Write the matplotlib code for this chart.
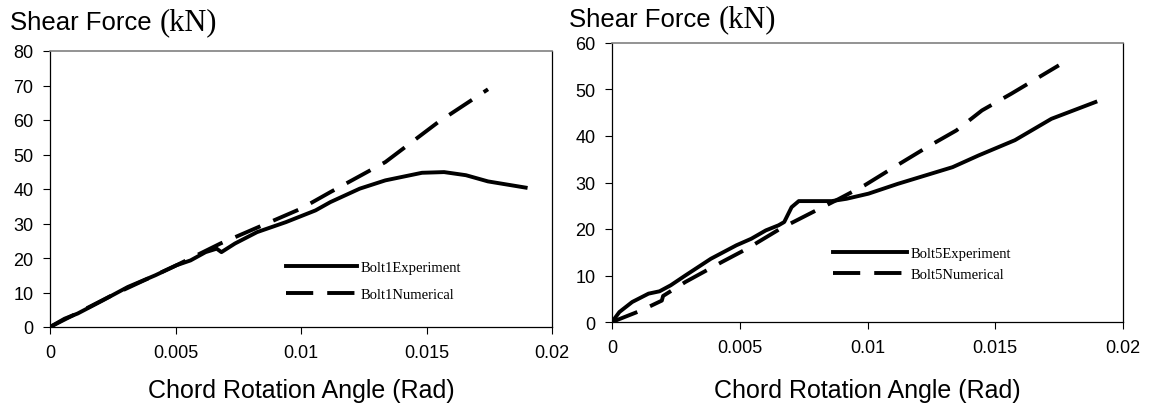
import matplotlib
matplotlib.use('Agg')
import matplotlib.pyplot as plt

plt.rcParams['font.family'] = ['Liberation Sans', 'DejaVu Sans']

# Bolt 1 (left)
b1_exp_x = [0, 0.00058, 0.0011, 0.0021, 0.0031, 0.0042, 0.00504, 0.0056, 0.0062, 0.00664,
            0.00683, 0.00737, 0.00825, 0.0094, 0.01058, 0.01117, 0.01234, 0.01336, 0.01482,
            0.0157, 0.01657, 0.01745, 0.01895]
b1_exp_y = [0, 2.4, 3.9, 7.7, 11.6, 15.0, 17.9, 19.3, 21.7, 22.7,
            21.7, 24.2, 27.5, 30.4, 33.8, 36.2, 40.1, 42.5, 44.7,
            44.9, 44.0, 42.2, 40.4]
b1_num_x = [0, 0.001, 0.0025, 0.00504, 0.00679, 0.00876, 0.01, 0.01117, 0.01336, 0.01547, 0.01745]
b1_num_y = [0, 3.7, 9.3, 17.9, 24.2, 30.4, 34.3, 39.1, 47.8, 59.4, 68.9]

# Bolt 5 (right)
b5_exp_x = [0, 0.00029, 0.00079, 0.00143, 0.00186, 0.0023, 0.00287, 0.00387, 0.00487, 0.00545,
            0.00602, 0.00652, 0.00674, 0.00703, 0.00731, 0.0086, 0.00918, 0.01004, 0.01118,
            0.01333, 0.01434, 0.01577, 0.0172, 0.01892]
b5_exp_y = [0, 2.15, 4.3, 6.1, 6.6, 7.9, 10.0, 13.6, 16.5, 17.9,
            19.7, 20.8, 21.5, 24.7, 26.0, 26.0, 26.5, 27.6, 29.7,
            33.3, 35.8, 39.1, 43.7, 47.3]
b5_num_x = [0, 0.00115, 0.00195, 0.002, 0.00287, 0.0043, 0.0053, 0.0066, 0.00774, 0.00889,
            0.00989, 0.01104, 0.01233, 0.01348, 0.01448, 0.01563, 0.01749]
b5_num_y = [0, 2.5, 4.6, 5.6, 8.6, 12.9, 15.8, 20.1, 23.3, 26.5,
            29.4, 33.3, 37.6, 41.2, 45.5, 49.1, 55.2]

xticks = [0, 0.005, 0.01, 0.015, 0.02]
xticklabels = ['0', '0.005', '0.01', '0.015', '0.02']

fig = plt.figure(figsize=(11.5, 4.1), dpi=100)
ax1 = fig.add_axes([50/1150, 1-328/410, 502/1150, 276/410])
ax2 = fig.add_axes([612/1150, 1-323/410, 511/1150, 279/410])


def style(ax, ymax, ystep, lab_y):
    ax.set_xlim(0, 0.02)
    ax.set_ylim(0, ymax)
    ax.set_xticks(xticks)
    ax.set_xticklabels(xticklabels)
    ax.set_yticks(range(0, ymax + 1, ystep))
    ax.tick_params(direction='out', length=5, width=0.8, labelsize=13, pad=7, colors='black')
    for s in ['left', 'bottom', 'right']:
        ax.spines[s].set_color('black')
        ax.spines[s].set_linewidth(0.9)
    ax.spines['top'].set_color('#808080')
    ax.spines['top'].set_linewidth(1.2)
    ax.set_xlabel('Chord Rotation Angle (Rad)', fontsize=18)
    ax.xaxis.set_label_coords(0.5, lab_y)


style(ax1, 80, 10, -0.185)
style(ax2, 60, 10, -0.2)

lw = 2.8
dash = (7, 3.6)
ax1.plot(b1_exp_x, b1_exp_y, color='black', lw=lw, label='Bolt1Experiment')
ax1.plot(b1_num_x, b1_num_y, color='black', lw=lw, dashes=dash, label='Bolt1Numerical')
ax2.plot(b5_exp_x, b5_exp_y, color='black', lw=lw, label='Bolt5Experiment')
ax2.plot(b5_num_x, b5_num_y, color='black', lw=lw, dashes=dash, label='Bolt5Numerical')

leg_font = {'family': 'Liberation Serif', 'size': 10.5}
ax1.legend(loc='upper left', bbox_to_anchor=(0.47, 0.24), frameon=False, prop=leg_font,
           borderpad=0, borderaxespad=0, handlelength=4.9, handletextpad=0.2, labelspacing=0.95)
ax2.legend(loc='upper left', bbox_to_anchor=(0.4325, 0.27), frameon=False, prop=leg_font,
           borderpad=0, borderaxespad=0, handlelength=5.1, handletextpad=0.2, labelspacing=0.55)

# y axis title above the axes
fig.text(10/1150, 1-30/410, 'Shear Force', fontsize=18.5, va='baseline')
fig.text(160/1150, 1-30/410, '(kN)', fontsize=22, va='baseline', family='Liberation Serif')
fig.text(569/1150, 1-27/410, 'Shear Force', fontsize=18.5, va='baseline')
fig.text(719/1150, 1-27/410, '(kN)', fontsize=22, va='baseline', family='Liberation Serif')

fig.savefig('out.png', dpi=100)
